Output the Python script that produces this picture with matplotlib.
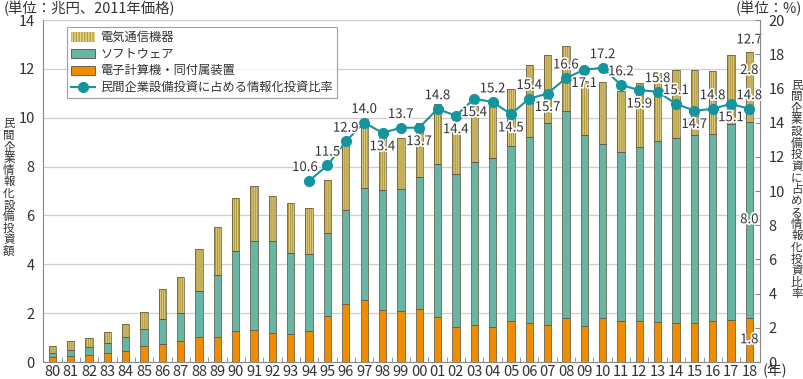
import matplotlib.pyplot as plt
import matplotlib.patheffects as pe
from matplotlib.patches import Patch
from matplotlib.lines import Line2D
import numpy as np

plt.rcParams['font.family'] = ['Noto Sans CJK JP', 'DejaVu Sans']
plt.rcParams['hatch.linewidth'] = 0.9

years = ['80', '81', '82', '83', '84', '85', '86', '87', '88', '89',
         '90', '91', '92', '93', '94', '95', '96', '97', '98', '99',
         '00', '01', '02', '03', '04', '05', '06', '07', '08', '09',
         '10', '11', '12', '13', '14', '15', '16', '17', '18']

# 電子計算機・同付属装置 (兆円)
computers = [0.22, 0.26, 0.30, 0.37, 0.46, 0.64, 0.75, 0.87, 1.02, 1.02,
             1.27, 1.32, 1.20, 1.16, 1.28, 1.90, 2.39, 2.55, 2.14, 2.07,
             2.16, 1.84, 1.42, 1.50, 1.45, 1.68, 1.58, 1.51, 1.79, 1.49,
             1.80, 1.66, 1.69, 1.62, 1.58, 1.58, 1.66, 1.73, 1.82]
# ソフトウェア
software = [0.16, 0.24, 0.33, 0.41, 0.56, 0.71, 1.00, 1.15, 1.90, 2.54,
            3.29, 3.63, 3.77, 3.31, 3.15, 3.37, 3.84, 4.59, 4.90, 5.00,
            5.41, 6.28, 6.26, 6.70, 6.91, 7.17, 7.64, 8.29, 8.47, 7.81,
            7.11, 6.92, 7.11, 7.44, 7.57, 7.70, 7.67, 8.02, 8.01]
# 電気通信機器
telecom = [0.29, 0.35, 0.35, 0.46, 0.52, 0.70, 1.24, 1.47, 1.72, 1.98,
           2.14, 2.25, 1.82, 2.02, 1.89, 2.19, 2.64, 2.80, 2.26, 2.11,
           2.23, 2.43, 1.74, 2.30, 2.34, 2.34, 2.94, 2.75, 2.67, 2.20,
           2.55, 2.52, 2.64, 2.77, 2.82, 2.69, 2.57, 2.80, 2.84]

# 民間企業設備投資に占める情報化投資比率 (%), 1994年から
ratio = [10.6, 11.5, 12.9, 14.0, 13.4, 13.7, 13.7, 14.8, 14.4, 15.4,
         15.2, 14.5, 15.4, 15.7, 16.6, 17.1, 17.2, 16.2, 15.9, 15.8,
         15.1, 14.7, 14.8, 15.1, 14.8]
# label side: 'a' above, 'b' below
ratio_pos = ['a', 'a', 'a', 'a', 'b', 'a', 'b', 'a', 'b', 'b',
             'a', 'b', 'a', 'b', 'a', 'b', 'a', 'a', 'b', 'a',
             'a', 'b', 'a', 'b', 'a']

c_orange = '#F08C00'
c_teal = '#66B6A3'
c_yellow = '#E6D484'
c_stripe = '#B09A40'
c_line = '#14959E'
c_edge = '#5a5040'
c_text = '#333333'

x = np.arange(len(years))
comp = np.array(computers)
soft = np.array(software)
tele = np.array(telecom)

fig = plt.figure(figsize=(8.04, 3.79), dpi=100)
ax = fig.add_axes([43 / 804, 1 - 362 / 379, (760 - 43) / 804, (362 - 20) / 379])
w = 0.4

ax.bar(x, comp, w, color=c_orange, edgecolor=c_edge, linewidth=0.5, zorder=2)
ax.bar(x, soft, w, bottom=comp, color=c_teal, edgecolor=c_edge, linewidth=0.5, zorder=2)
ax.bar(x, tele, w, bottom=comp + soft, color=c_yellow, edgecolor=c_stripe,
       linewidth=0, hatch='|' * 8, zorder=2)
ax.bar(x, tele, w, bottom=comp + soft, fill=False, edgecolor=c_edge,
       linewidth=0.5, zorder=2)

ax.set_xlim(-0.51, len(years) - 1 + 0.58)
ax.set_ylim(0, 14)
ax.set_yticks(range(0, 15, 2))
ax.yaxis.grid(True, color='#cfcfcf', linewidth=0.9, zorder=0)
ax.set_axisbelow(True)
ax.set_xticks(x)
ax.set_xticklabels(years)
ax.set_xticks(x[:-1] + 0.5, minor=True)
ax.tick_params(axis='x', which='major', length=0, pad=2, labelsize=10.5, colors=c_text)
ax.tick_params(axis='x', which='minor', length=3.5, direction='in', color='#888888')
ax.tick_params(axis='y', length=0, pad=6, labelsize=10.5, colors=c_text)
for s in ['top', 'right']:
    ax.spines[s].set_visible(False)
for s in ['left', 'bottom']:
    ax.spines[s].set_color('#888888')

halo = [pe.withStroke(linewidth=2.5, foreground='white')]

# 2018 bar labels
i = len(years) - 1
total = comp[i] + soft[i] + tele[i]
ax.annotate(f'{total:.1f}', (x[i], total), xytext=(0, 9), textcoords='offset points',
            ha='center', va='center', fontsize=9.5, color=c_text, path_effects=halo, zorder=5)
ax.annotate(f'{tele[i]:.1f}', (x[i], comp[i] + soft[i] + tele[i] / 2), xytext=(0, 12),
            textcoords='offset points', ha='center', va='center', fontsize=9.5,
            color=c_text, path_effects=halo, zorder=5)
ax.annotate(f'{soft[i]:.1f}', (x[i], comp[i] + soft[i] / 2), ha='center', va='center',
            fontsize=9.5, color=c_text, path_effects=halo, zorder=5)
ax.annotate(f'{comp[i]:.1f}', (x[i], comp[i] / 2), ha='center', va='center',
            fontsize=9.5, color=c_text, path_effects=halo, zorder=5)

ax2 = ax.twinx()
ax2.set_ylim(0, 20)
ax2.set_yticks(range(0, 21, 2))
ax2.tick_params(axis='y', length=3.5, direction='in', pad=6, labelsize=10.5,
                colors=c_text, color='#888888')
for s in ['top', 'left', 'bottom']:
    ax2.spines[s].set_visible(False)
ax2.spines['right'].set_color('#888888')

rx = x[14:]
ax2.plot(rx, ratio, color=c_line, linewidth=1.5, marker='o', markersize=7,
         zorder=4)
for xi, v, p in zip(rx, ratio, ratio_pos):
    dy = 9.5 if p == 'a' else -10
    dx = -3 if xi == rx[0] else 0
    ax2.annotate(f'{v:.1f}', (xi, v), xytext=(dx, dy), textcoords='offset points',
                 ha='center', va='center', fontsize=9.5, color=c_text,
                 path_effects=halo, zorder=5)

handles = [
    Patch(facecolor=c_yellow, edgecolor=c_stripe, hatch='|' * 6, linewidth=0),
    Patch(facecolor=c_teal, edgecolor=c_edge, linewidth=0.6),
    Patch(facecolor=c_orange, edgecolor=c_edge, linewidth=0.6),
    Line2D([], [], color=c_line, marker='o', markersize=7, linewidth=1.5),
]
labels = ['電気通信機器', 'ソフトウェア', '電子計算機・同付属装置',
          '民間企業設備投資に占める情報化投資比率']
leg = ax2.legend(handles, labels, loc='upper left', bbox_to_anchor=(0.0335, 0.98),
                 fontsize=8.8, frameon=True, fancybox=False, edgecolor='#888888',
                 handlelength=1.9, handleheight=0.8, labelspacing=0.3,
                 borderpad=0.35, handletextpad=0.45, borderaxespad=0)
leg.get_frame().set_linewidth(0.8)
for t in leg.get_texts():
    t.set_color(c_text)

fig.text(0.004, 0.978, '(単位：兆円、2011年価格)', fontsize=10.4, color=c_text,
         ha='left', va='center')
fig.text(0.998, 0.978, '(単位：%)', fontsize=10.4, color=c_text, ha='right', va='center')
fig.text(0.949, 0.022, '(年)', fontsize=10.5, color=c_text, ha='left', va='center')
fig.text(0.011, 0.505, '\n'.join('民間企業情報化設備投資額'), fontsize=8.3, color=c_text,
         ha='center', va='center', linespacing=0.86)
fig.text(0.991, 0.5, '\n'.join('民間企業設備投資に占める情報化投資比率'), fontsize=8.3,
         color=c_text, ha='center', va='center', linespacing=0.86)

fig.savefig('out.png', dpi=100)
